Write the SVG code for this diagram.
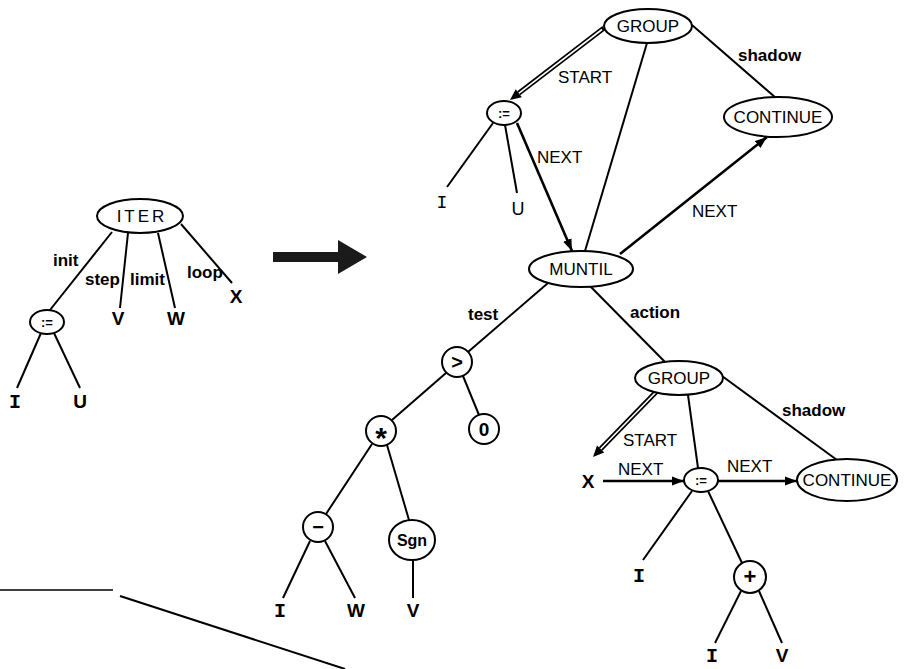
<svg xmlns="http://www.w3.org/2000/svg" width="909" height="669" viewBox="0 0 909 669">
<defs>
<style>
.n{fill:#fff;stroke:#000;stroke-width:2}
.e{fill:none;stroke:#000;stroke-width:2}
.nx{fill:none;stroke:#000;stroke-width:2.6;marker-end:url(#ah)}
.dbo{fill:none;stroke:#000;stroke-width:5}
.dbi{fill:none;stroke:#fff;stroke-width:1.6}
.head{fill:#000}
text{font-family:"Liberation Sans",Arial,sans-serif;fill:#000}
.t{font-size:17px;text-anchor:middle}
.lb{font-size:17px}
.lw{font-size:17px;font-weight:bold}
.lf{font-size:19px;font-weight:bold;text-anchor:middle}
.lt{font-size:18px;text-anchor:middle}
.ii{font-family:"Liberation Mono",monospace;font-size:20px;font-weight:bold;text-anchor:middle}
.as{font-size:13px;font-weight:bold;text-anchor:middle}
.op{font-size:20px;font-weight:bold;text-anchor:middle}
</style>
<marker id="ah" markerUnits="userSpaceOnUse" markerWidth="13" markerHeight="10" refX="12" refY="5" orient="auto">
<path d="M0,0.5 L12,5 L0,9.5 z" fill="#000"/>
</marker>
</defs>
<rect width="909" height="669" fill="#fff"/>

<g id="connectors">
<!-- left tree -->
<line class="e" x1="112" y1="232" x2="50" y2="310"/>
<line class="e" x1="128" y1="233" x2="120" y2="308"/>
<line class="e" x1="158" y1="233" x2="175" y2="308"/>
<line class="e" x1="181" y1="224" x2="232" y2="283"/>
<line class="e" x1="41" y1="333" x2="17" y2="388"/>
<line class="e" x1="54" y1="333" x2="80" y2="388"/>
<!-- big transformation arrow -->
<polygon points="273,252 338,252 338,240 367,257 338,274 338,262 273,262" fill="#1a1a1a"/>
<!-- upper right -->
<line class="e" x1="647" y1="43" x2="585" y2="251"/>
<line class="e" x1="692" y1="25" x2="776" y2="98"/>
<line class="dbo" x1="604" y1="28" x2="518.7" y2="93.3"/>
<line class="dbi" x1="602" y1="29.5" x2="518.7" y2="93.3"/>
<polygon class="head" points="510,100 521.8,97.3 515.7,89.3"/>
<line class="e" x1="493" y1="123" x2="447" y2="187"/>
<line class="e" x1="505" y1="125" x2="517" y2="193"/>
<line class="nx" x1="517" y1="123" x2="572" y2="251"/>
<line class="nx" x1="620" y1="254" x2="767" y2="137"/>
<!-- MUNTIL children -->
<line class="e" x1="548" y1="283" x2="468" y2="352"/>
<line class="e" x1="590" y1="286" x2="665" y2="362"/>
<!-- test subtree -->
<line class="e" x1="446" y1="373" x2="392" y2="420"/>
<line class="e" x1="463" y1="376" x2="479" y2="415"/>
<line class="e" x1="372" y1="444" x2="326" y2="514"/>
<line class="e" x1="387" y1="445" x2="409" y2="520"/>
<line class="e" x1="310" y1="541" x2="283" y2="598"/>
<line class="e" x1="325" y1="541" x2="355" y2="598"/>
<line class="e" x1="413" y1="560" x2="413" y2="598"/>
<!-- action subtree -->
<line class="e" x1="688" y1="395" x2="698" y2="468"/>
<line class="e" x1="722" y1="376" x2="837" y2="460"/>
<line class="dbo" x1="657" y1="391" x2="600.6" y2="449"/>
<line class="dbi" x1="655.6" y1="392.5" x2="600.6" y2="449"/>
<polygon class="head" points="593,457 604.2,452.5 597,445.6"/>
<line class="nx" x1="603" y1="481" x2="684" y2="481"/>
<line class="nx" x1="718" y1="481" x2="797" y2="481"/>
<line class="e" x1="692" y1="491" x2="643" y2="560"/>
<line class="e" x1="708" y1="491" x2="742" y2="563"/>
<line class="e" x1="741" y1="591" x2="715" y2="643"/>
<line class="e" x1="759" y1="591" x2="782" y2="643"/>
<!-- bottom-left stray lines -->
<path d="M0,590 L113,590" fill="none" stroke="#000" stroke-width="1.6"/>
<line x1="120" y1="596" x2="345" y2="669" stroke="#000" stroke-width="2"/>
</g>

<g id="edge-labels">
<text class="lw" x="53" y="266">init</text>
<text class="lw" x="85" y="285">step</text>
<text class="lw" x="130" y="285">limit</text>
<text class="lw" x="187" y="278">loop</text>
<text class="lb" x="558" y="83">START</text>
<text class="lw" x="738" y="61">shadow</text>
<text class="lb" x="537" y="163">NEXT</text>
<text class="lb" x="692" y="217">NEXT</text>
<text class="lw" x="468" y="320">test</text>
<text class="lw" x="630" y="318">action</text>
<text class="lb" x="623" y="446">START</text>
<text class="lw" x="782" y="416">shadow</text>
<text class="lb" x="618" y="475">NEXT</text>
<text class="lb" x="727" y="472">NEXT</text>
</g>

<g id="iter"><ellipse class="n" cx="140" cy="216" rx="43" ry="17"/><text class="t" x="142" y="222" style="letter-spacing:3px">ITER</text></g>
<g id="assign-left"><ellipse class="n" cx="47" cy="322" rx="17" ry="12"/><text class="as" x="47" y="327">:=</text></g>
<g id="left-I"><text class="ii" x="15" y="408">I</text></g>
<g id="left-U"><text class="lf" x="80" y="408">U</text></g>
<g id="left-V"><text class="lf" x="118" y="325">V</text></g>
<g id="left-W"><text class="lf" x="176" y="325">W</text></g>
<g id="left-X"><text class="lf" x="236" y="303">X</text></g>

<g id="group-top"><ellipse class="n" cx="648" cy="26" rx="44" ry="17"/><text class="t" x="648" y="32">GROUP</text></g>
<g id="assign-top"><ellipse class="n" cx="504" cy="113" rx="17" ry="12"/><text class="as" x="504" y="118">:=</text></g>
<g id="top-I"><text class="lt" x="442" y="208" style="font-family:'Liberation Mono',monospace">I</text></g>
<g id="top-U"><text class="lt" x="518" y="215">U</text></g>
<g id="continue-top"><ellipse class="n" cx="778" cy="117" rx="54" ry="20"/><text class="t" x="778" y="123">CONTINUE</text></g>
<g id="muntil"><ellipse class="n" cx="581" cy="269" rx="52" ry="18"/><text class="t" x="581" y="275">MUNTIL</text></g>

<g id="gt"><circle class="n" cx="457" cy="362" r="15"/><text class="op" x="457" y="369">&gt;</text></g>
<g id="times"><circle class="n" cx="381" cy="431" r="15"/><text class="op" x="381" y="448" style="font-size:30px">*</text></g>
<g id="zero"><circle class="n" cx="484" cy="429" r="15"/><text class="op" x="484" y="436" style="font-size:19px">0</text></g>
<g id="minus"><circle class="n" cx="318" cy="527" r="15"/><text class="op" x="318" y="534">−</text></g>
<g id="sgn"><ellipse class="n" cx="412" cy="540" rx="23" ry="20"/><text class="op" x="412" y="546" style="font-size:16px">Sgn</text></g>
<g id="mid-I"><text class="ii" x="280" y="617">I</text></g>
<g id="mid-W"><text class="lf" x="356" y="617">W</text></g>
<g id="mid-V"><text class="lf" x="413" y="617">V</text></g>

<g id="group-low"><ellipse class="n" cx="679" cy="378" rx="44" ry="17"/><text class="t" x="679" y="384">GROUP</text></g>
<g id="low-X"><text class="lf" x="588" y="488">X</text></g>
<g id="assign-low"><ellipse class="n" cx="701" cy="480" rx="17" ry="12"/><text class="as" x="701" y="485">:=</text></g>
<g id="continue-low"><ellipse class="n" cx="847" cy="480" rx="50" ry="21"/><text class="t" x="847" y="486">CONTINUE</text></g>
<g id="low-I"><text class="ii" x="639" y="582">I</text></g>
<g id="plus"><circle class="n" cx="750" cy="577" r="16"/><text class="op" x="750" y="584" style="font-size:22px">+</text></g>
<g id="plus-I"><text class="ii" x="712" y="662">I</text></g>
<g id="plus-V"><text class="lf" x="782" y="662">V</text></g>
</svg>
